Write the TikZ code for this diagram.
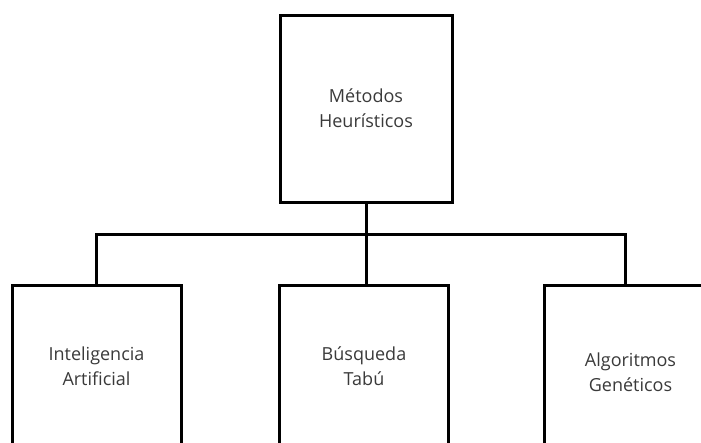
\documentclass[tikz,border=0pt]{standalone}
\usepackage{fontspec}
\setmainfont{Open Sans}
\definecolor{txtgray}{HTML}{3A3A3A}
\begin{document}
\begin{tikzpicture}[x=1pt,y=-1pt,
  box/.style={draw=black, line width=3pt, fill=white, minimum width=169pt, inner sep=0pt,
    text=txtgray, align=center, font=\fontsize{18}{25}\selectfont},
  link/.style={draw=black, line width=3pt}]
\useasboundingbox (0,0) rectangle (701,442);
\clip (0,0) rectangle (701,442);
\node[box, minimum width=172pt, minimum height=187pt] (top) at (366,108.5) {Métodos\\Heurísticos};
\node[box, minimum height=162pt, anchor=north] (ia) at (96.5,284) {Inteligencia\\Artificial};
\node[box, minimum height=162pt, anchor=north] (bt) at (364,284) {Búsqueda\\Tabú};
\node[box, minimum height=174pt, minimum width=172pt, anchor=north west] (ag) at (543,284) {Algoritmos\\Genéticos};
\coordinate (bus) at (366,234);
\coordinate (agtop) at (625,284);
\draw[link] (top.south) -- (bus |- bt.north);
\draw[link] (ia.north) |- (bus) -| (agtop);
\end{tikzpicture}
\end{document}
